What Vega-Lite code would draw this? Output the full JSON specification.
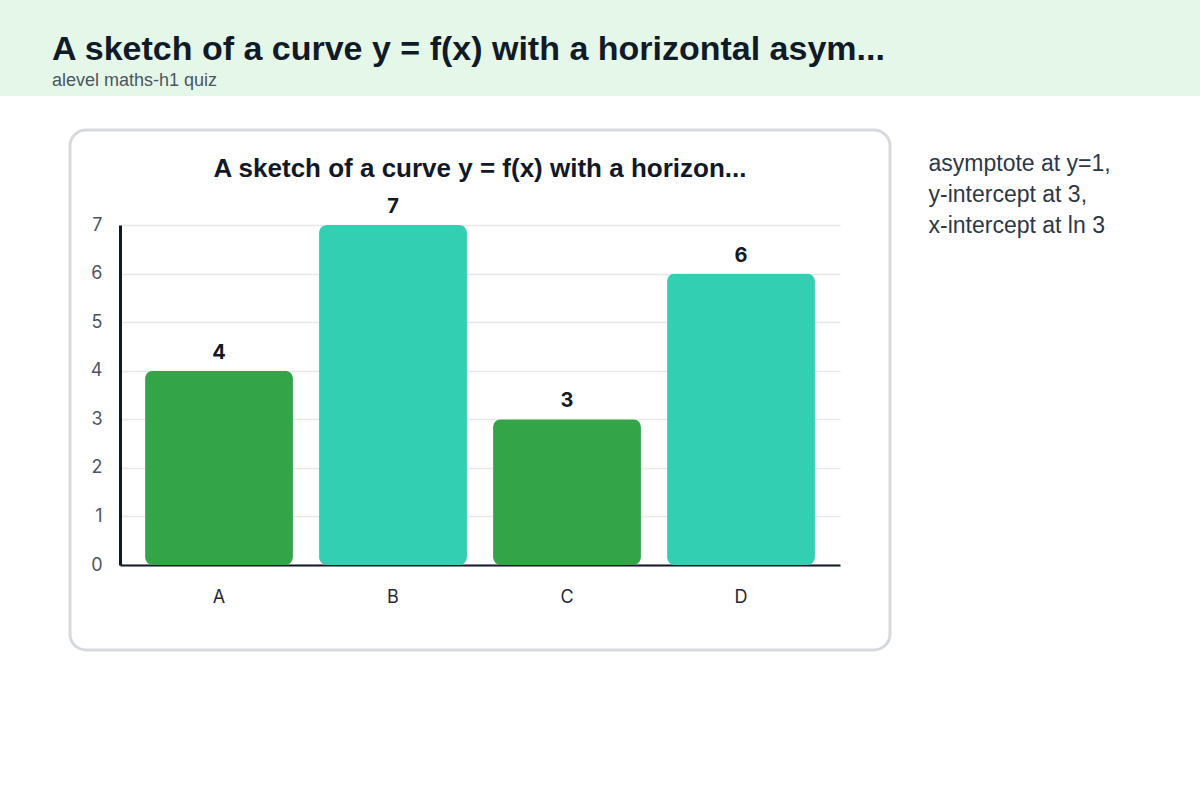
{
  "$schema": "https://vega.github.io/schema/vega-lite/v6.json",
  "background": "#ffffff",
  "padding": 0,
  "spacing": 32,
  "config": {"view": {"stroke": null}},
  "vconcat": [
    {
      "width": 1200,
      "height": 96,
      "view": {"fill": "#e5f7e8", "stroke": null},
      "title": {
        "text": "A sketch of a curve y = f(x) with a horizontal asym...",
        "subtitle": "alevel maths-h1 quiz",
        "anchor": "start",
        "frame": "group",
        "orient": "top",
        "offset": 0,
        "dx": 52,
        "dy": 90,
        "font": "Liberation Sans",
        "fontSize": 34,
        "fontWeight": "bold",
        "color": "#111b27",
        "subtitleFont": "Liberation Sans",
        "subtitleFontSize": 18,
        "subtitleColor": "#4b5563",
        "subtitlePadding": 5
      },
      "data": {"values": [{"t": ""}]},
      "mark": {"type": "text"},
      "encoding": {"text": {"field": "t"}}
    },
    {
      "spacing": 0,
      "hconcat": [
        {
          "width": 68,
          "height": 10,
          "view": {"stroke": null},
          "data": {"values": [{"t": ""}]},
          "mark": {"type": "text"},
          "encoding": {"text": {"field": "t"}}
        },
        {
          "width": 820,
          "height": 520,
          "view": {"stroke": "#d6d9de", "strokeWidth": 3, "cornerRadius": 16, "fill": "#ffffff"},
          "title": {
            "text": "A sketch of a curve y = f(x) with a horizon...",
            "anchor": "middle",
            "frame": "group",
            "orient": "top",
            "offset": 0,
            "dy": 52,
            "font": "Liberation Sans",
            "fontSize": 26,
            "fontWeight": "bold",
            "color": "#111827"
          },
          "data": {
            "values": [
              {"option": "A", "value": 4},
              {"option": "B", "value": 7},
              {"option": "C", "value": 3},
              {"option": "D", "value": 6}
            ]
          },
          "encoding": {
            "x": {
              "field": "option",
              "type": "nominal",
              "scale": {"range": [50, 770], "paddingInner": 0.15, "paddingOuter": 0.144},
              "axis": {
                "title": null,
                "orient": "bottom",
                "offset": -85,
                "labelAngle": 0,
                "labelFont": "Inter",
                "labelFontSize": 18,
                "labelColor": "#1f2937",
                "labelPadding": 23,
                "ticks": false,
                "grid": false,
                "domain": true,
                "domainColor": "#111827",
                "domainWidth": 2
              }
            },
            "y": {
              "field": "value",
              "type": "quantitative",
              "scale": {"domain": [0, 7], "range": [435, 95], "nice": false},
              "axis": {
                "title": null,
                "offset": -50,
                "values": [0, 1, 2, 3, 4, 5, 6, 7],
                "labelFont": "Inter",
                "labelFontSize": 18,
                "labelColor": "#4b5563",
                "labelPadding": 18,
                "ticks": false,
                "grid": true,
                "gridColor": "#e5e7eb",
                "gridWidth": 1.5,
                "domain": true,
                "domainColor": "#111827",
                "domainWidth": 3
              }
            }
          },
          "layer": [
            {
              "mark": {"type": "bar", "cornerRadius": 8},
              "encoding": {
                "color": {
                  "field": "option",
                  "type": "nominal",
                  "scale": {"domain": ["A", "B", "C", "D"], "range": ["#33a447", "#33cfb3", "#33a447", "#33cfb3"]},
                  "legend": null
                }
              }
            },
            {
              "mark": {"type": "text", "baseline": "alphabetic", "dy": -12, "font": "Inter", "fontSize": 20, "fontWeight": "bold", "color": "#111827"},
              "encoding": {"text": {"field": "value", "type": "quantitative"}}
            }
          ]
        },
        {
          "width": 36,
          "height": 10,
          "view": {"stroke": null},
          "data": {"values": [{"t": ""}]},
          "mark": {"type": "text"},
          "encoding": {"text": {"field": "t"}}
        },
        {
          "width": 1,
          "height": 82,
          "view": {"stroke": null},
          "data": {"values": [{"note": ["asymptote at y=1,", "y-intercept at 3,", "x-intercept at ln 3"]}]},
          "mark": {"type": "text", "align": "left", "baseline": "alphabetic", "font": "Liberation Sans", "fontSize": 23, "lineHeight": 31, "color": "#2d3748"},
          "encoding": {"text": {"field": "note"}}
        }
      ]
    }
  ]
}
